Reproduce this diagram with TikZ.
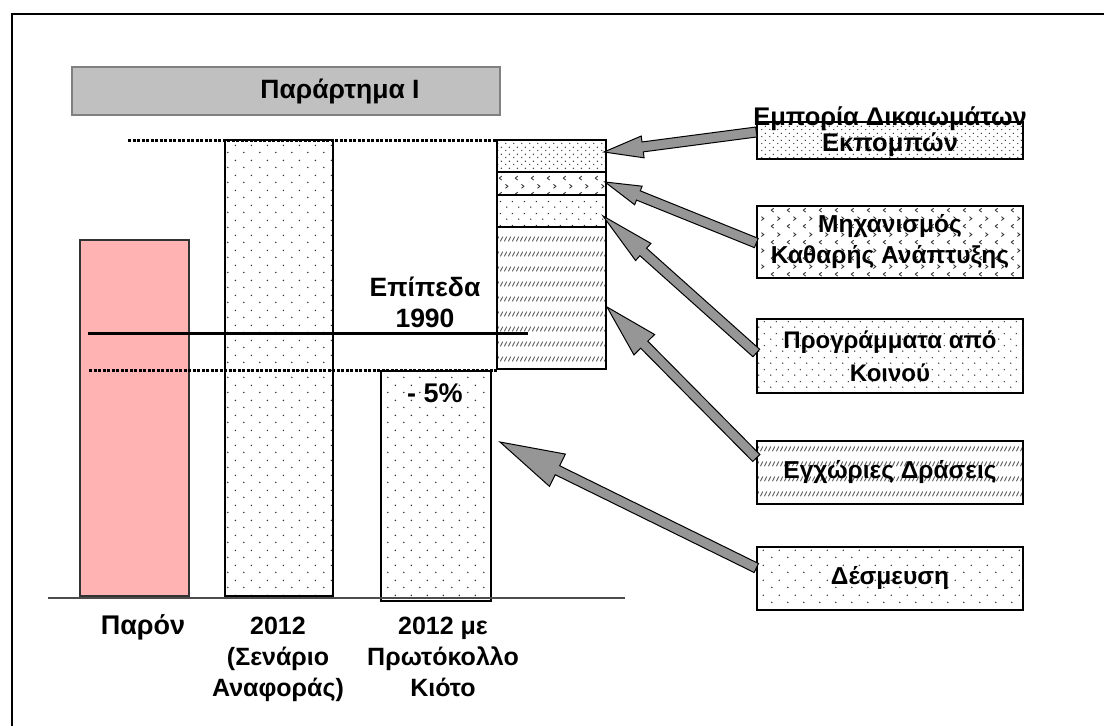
\documentclass[tikz,border=0pt]{standalone}
\usepackage{fontspec}
\setmainfont{Liberation Sans}
\usepackage{tikz}
\usetikzlibrary{calc,patterns}

\definecolor{barpink}{HTML}{FFB3B3}
\definecolor{titlegray}{HTML}{C0C0C0}
\definecolor{titleedge}{HTML}{808080}
\definecolor{arrgray}{HTML}{969696}

% fill patterns
\pgfdeclarepatternformonly{sparse dots}{\pgfpointorigin}{\pgfqpoint{16pt}{15pt}}{\pgfqpoint{16pt}{15pt}}{%
  \pgfpathcircle{\pgfqpoint{4pt}{3.75pt}}{0.85pt}%
  \pgfpathcircle{\pgfqpoint{12pt}{11.25pt}}{0.85pt}%
  \pgfusepath{fill}}
\pgfdeclarepatternformonly{medium dots}{\pgfpointorigin}{\pgfqpoint{12pt}{12pt}}{\pgfqpoint{12pt}{12pt}}{%
  \pgfpathcircle{\pgfqpoint{3pt}{3pt}}{0.8pt}%
  \pgfpathcircle{\pgfqpoint{9pt}{9pt}}{0.8pt}%
  \pgfusepath{fill}}
\pgfdeclarepatternformonly{dense dots}{\pgfpointorigin}{\pgfqpoint{8pt}{7pt}}{\pgfqpoint{8pt}{7pt}}{%
  \pgfpathcircle{\pgfqpoint{2pt}{1.75pt}}{0.75pt}%
  \pgfpathcircle{\pgfqpoint{6pt}{5.25pt}}{0.75pt}%
  \pgfusepath{fill}}
\pgfdeclarepatternformonly{chevrons}{\pgfpointorigin}{\pgfqpoint{16pt}{16pt}}{\pgfqpoint{16pt}{16pt}}{%
  \pgfsetlinewidth{0.9pt}%
  \pgfpathmoveto{\pgfqpoint{6pt}{6pt}}\pgfpathlineto{\pgfqpoint{3.5pt}{4pt}}\pgfpathlineto{\pgfqpoint{6pt}{2pt}}%
  \pgfpathmoveto{\pgfqpoint{10pt}{14pt}}\pgfpathlineto{\pgfqpoint{12.5pt}{12pt}}\pgfpathlineto{\pgfqpoint{10pt}{10pt}}%
  \pgfusepath{stroke}}
\pgfdeclarepatternformonly{dash hatch}{\pgfpointorigin}{\pgfqpoint{4pt}{15pt}}{\pgfqpoint{4pt}{15pt}}{%
  \pgfsetlinewidth{1pt}%
  \pgfpathmoveto{\pgfqpoint{0.5pt}{5pt}}\pgfpathlineto{\pgfqpoint{3.5pt}{10pt}}%
  \pgfusepath{stroke}}

\newcommand{\chfont}[1]{\fontsize{#1}{31}\selectfont\bfseries}

% block arrow: tail, tip, shaft half width, head half width, head length
\newcommand{\blkarrow}[5]{%
  \coordinate (h) at ($(#2)!#5!(#1)$);
  \draw[ch_arr] ($(#1)!#3!90:(#2)$) -- ($(h)!#3!-90:(#1)$) -- ($(h)!#4!-90:(#1)$) -- (#2)
    -- ($(h)!#4!90:(#1)$) -- ($(h)!#3!90:(#1)$) -- ($(#1)!#3!-90:(#2)$) -- cycle;
}

\tikzset{
  ch_bar/.style={draw, line width=1.4pt, pattern color=black!80},
  ch_box/.style={
    draw, line width=1.4pt, pattern color=black!80,
    minimum width=266pt, inner sep=0pt,
    align=center, font=\chfont{24.5}
  },
  ch_text/.style={align=center, font=\chfont{25}, inner sep=0pt},
  ch_arr/.style={draw=black, fill=arrgray, line width=1pt, line join=miter},
  ch_dot/.style={line width=3pt, dash pattern=on 3pt off 1.5pt},
}

\begin{document}
\begin{tikzpicture}[x=1pt, y=-1pt]
\useasboundingbox (0,0) rectangle (1104,726);

% frame
\draw[line width=2.2pt] (1104,14) -- (12,14) -- (12,726);

% title
\node[draw=titleedge, fill=titlegray, line width=1.5pt, minimum width=428pt, minimum height=48pt] (titlebox) at (286,91) {};
\node[ch_text, font=\chfont{26.5}] (title) at (340,91) {Παράρτημα Ι};

% bars
\draw[ch_bar, fill=barpink, draw=black!80] (80,240) rectangle (189,596);
\draw[ch_bar, pattern=sparse dots] (225,140) rectangle (333,596);
\draw[ch_bar, pattern=sparse dots] (381,371) rectangle (491,601);

% stacked bar
\draw[ch_bar, pattern=dense dots]  (497,140) rectangle (606,172);
\draw[ch_bar, pattern=chevrons]    (497,172) rectangle (606,195);
\draw[ch_bar, pattern=medium dots] (497,195) rectangle (606,227);
\draw[ch_bar, pattern=dash hatch, pattern color=black!65] (497,227) rectangle (606,369);

% levels
\draw[ch_dot] (128,140) -- (497,140);
\draw[ch_dot] (89,370) -- (497,370);
\draw[line width=3pt] (88,333) -- (528,333);
\draw[line width=1.5pt, black!70] (48,598) -- (625,598);

\node[ch_text, font=\chfont{26.5}] (lvl) at (425,302) {Επίπεδα\\1990};
\node[ch_text, font=\chfont{27}] (cut) at (435,393) {- 5\%};

% axis labels
\node[ch_text, font=\chfont{27}] (now) at (143,627) {Παρόν};
\node[ch_text] (base)  at (278,659) {2012\\(Σενάριο\\Αναφοράς)};
\node[ch_text] (kyoto) at (443,657) {2012 με\\Πρωτόκολλο\\Κιότο};

% mechanism boxes
\node[ch_box, pattern=dense dots,  minimum height=37pt] (emp)   at (890,140.5) {};
\node[ch_text, font=\fontsize{25.5}{26}\selectfont\bfseries] (emptext) at (890,132) {Εμπορία Δικαιωμάτων\\Εκπομπών};
\node[ch_box, pattern=chevrons,    minimum height=72pt] (cdm)   at (890,242)   {Μηχανισμός\\Καθαρής Ανάπτυξης};
\node[ch_box, pattern=medium dots, minimum height=74pt, font=\fontsize{24}{33}\selectfont\bfseries] (prog) at (890,356) {Προγράμματα από\\Κοινού};
\node[ch_box, pattern=dash hatch, pattern color=black!65, minimum height=63pt] (local) at (890,472.5) {Εγχώριες Δράσεις};
\node[ch_box, pattern=sparse dots, minimum height=63pt] (desm)  at (890,578.5) {Δέσμευση};

% arrow ends
\coordinate (t1) at ($(emp.west)+(0,-8.5)$);
\coordinate (t2) at ($(cdm.west)+(0,1)$);
\coordinate (t3) at ($(prog.west)+(0,-3)$);
\coordinate (t4) at ($(local.west)+(0,-14.5)$);
\coordinate (t5) at ($(desm.west)+(0,-10.5)$);
\coordinate (s1) at (604,152);
\coordinate (s2) at (605,182);
\coordinate (s3) at (603,216);
\coordinate (s4) at (607,307);
\coordinate (s5) at (500,442);

\blkarrow{t1}{s1}{5pt}{11pt}{39pt}
\blkarrow{t2}{s2}{5pt}{10pt}{36pt}
\blkarrow{t3}{s3}{5pt}{11.5pt}{54pt}
\blkarrow{t4}{s4}{5pt}{14.5pt}{53pt}
\blkarrow{t5}{s5}{5pt}{18pt}{64pt}

\end{tikzpicture}
\end{document}
